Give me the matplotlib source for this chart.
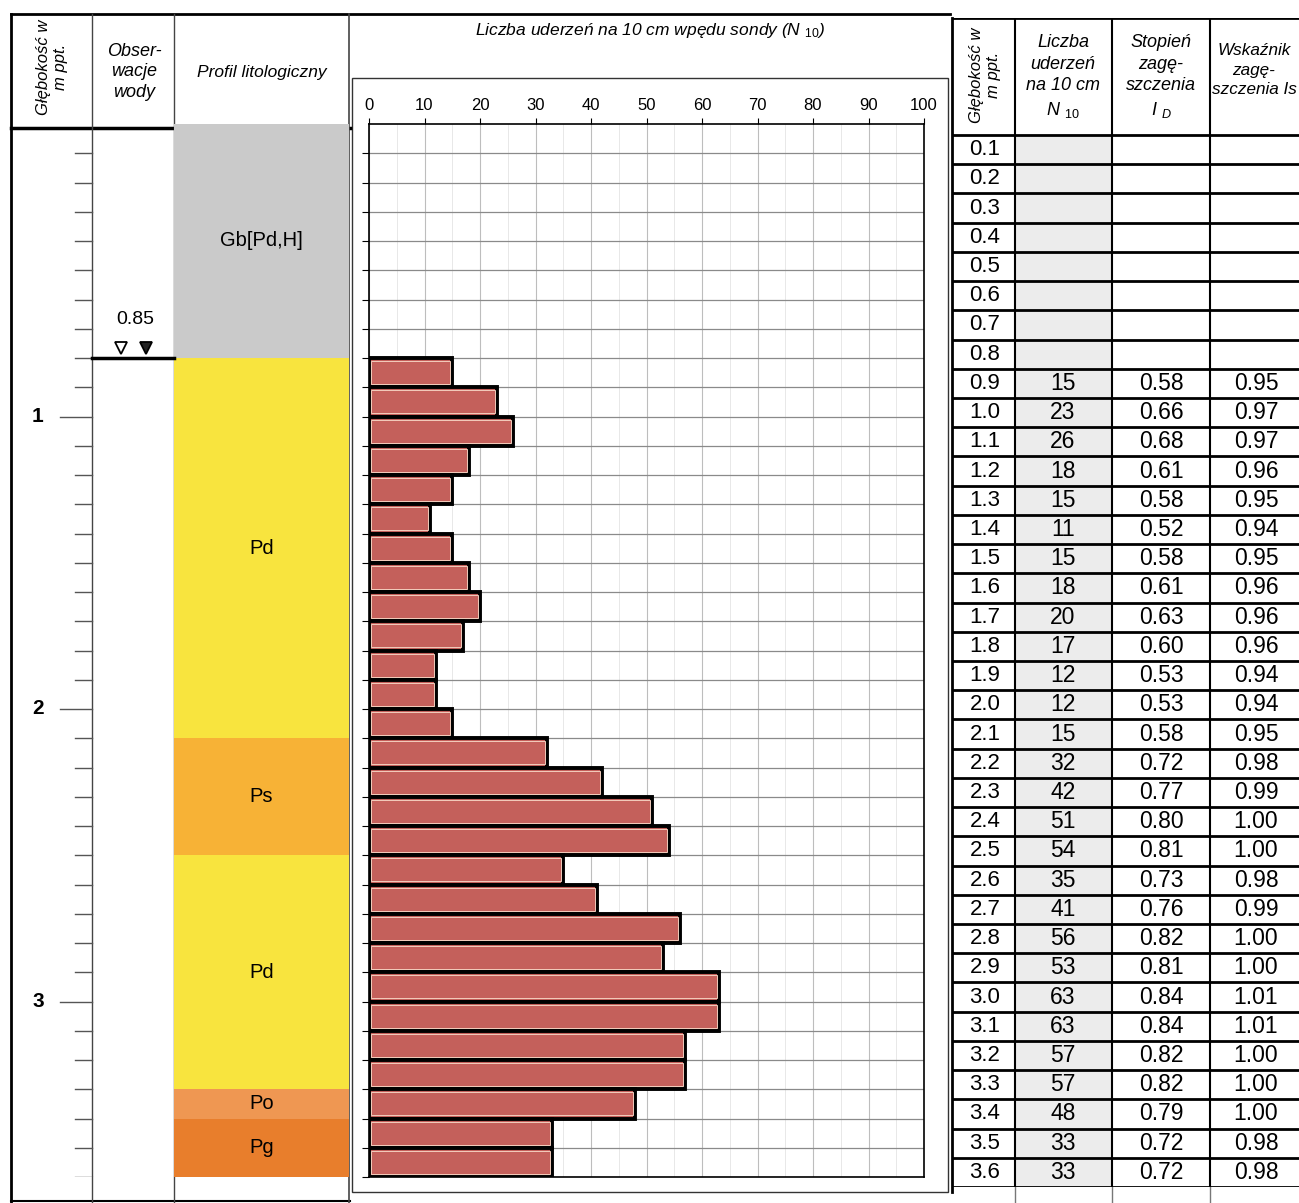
"""
Sounding log: lithology profile, N10 blow counts and density table
"""

import numpy as np
import matplotlib.pyplot as plt
from matplotlib.patches import Rectangle

plt.rcParams["font.family"] = ["Liberation Sans", "DejaVu Sans"]
plt.rcParams["mathtext.fontset"] = "custom"
plt.rcParams["mathtext.rm"] = "Liberation Sans"
plt.rcParams["mathtext.it"] = "Liberation Sans:italic"
plt.rcParams["mathtext.bf"] = "Liberation Sans:bold"

# depth of each 10 cm step [m ppt.]
depth = [0.1, 0.2, 0.3, 0.4, 0.5, 0.6, 0.7, 0.8, 0.9, 1.0, 1.1, 1.2,
         1.3, 1.4, 1.5, 1.6, 1.7, 1.8, 1.9, 2.0, 2.1, 2.2, 2.3, 2.4,
         2.5, 2.6, 2.7, 2.8, 2.9, 3.0, 3.1, 3.2, 3.3, 3.4, 3.5, 3.6]
# blow counts (no sounding above 0.8 m)
n10 = [None, None, None, None, None, None, None, None,
       15, 23, 26, 18, 15, 11, 15, 18, 20, 17, 12, 12, 15, 32,
       42, 51, 54, 35, 41, 56, 53, 63, 63, 57, 57, 48, 33, 33]
i_d = [None, None, None, None, None, None, None, None,
       0.58, 0.66, 0.68, 0.61, 0.58, 0.52, 0.58, 0.61, 0.63, 0.60,
       0.53, 0.53, 0.58, 0.72, 0.77, 0.80, 0.81, 0.73, 0.76, 0.82,
       0.81, 0.84, 0.84, 0.82, 0.82, 0.79, 0.72, 0.72]
i_s = [None, None, None, None, None, None, None, None,
       0.95, 0.97, 0.97, 0.96, 0.95, 0.94, 0.95, 0.96, 0.96, 0.96,
       0.94, 0.94, 0.95, 0.98, 0.99, 1.00, 1.00, 0.98, 0.99, 1.00,
       1.00, 1.01, 1.01, 1.00, 1.00, 1.00, 0.98, 0.98]

# lithology
layer_names = ["Gb[Pd,H]", "Pd", "Ps", "Pd", "Po", "Pg"]
layer_top = [0.0, 0.8, 2.1, 2.5, 3.3, 3.4]
layer_bottom = [0.8, 2.1, 2.5, 3.3, 3.4, 3.6]
layer_colors = ["#cacaca", "#f8e43e", "#f7b236", "#f8e43e", "#ef9752", "#e87e2c"]

water_level = 0.85
depth_major = [1, 2, 3]
x_ticks = [0, 10, 20, 30, 40, 50, 60, 70, 80, 90, 100]

W, H = 1299, 1203
fig = plt.figure(figsize=(W / 100, H / 100), dpi=100)


def px_axes(x0, y0, x1, y1, **kw):
    # axes given by pixel box, y measured from the top
    return fig.add_axes([x0 / W, 1 - y1 / H, (x1 - x0) / W, (y1 - y0) / H], **kw)


# background / frame axes in pixel coordinates
bg = px_axes(0, 0, W, H)
bg.set_xlim(0, W)
bg.set_ylim(H, 0)
bg.axis("off")

k = dict(color="black", lw=2)
bg.plot([11, 950], [14, 14], **k)
bg.plot([11, 11], [14, H], **k)
bg.plot([11, 350], [128, 128], lw=2.5, color="black")
bg.plot([11, 350], [1201, 1201], lw=1.5, color="black")
bg.plot([92, 92], [14, H], lw=1, color="#444444")
bg.plot([174, 174], [14, H], lw=1, color="#444444")
bg.plot([349, 349], [14, H], lw=1.2, color="#444444")
bg.add_patch(Rectangle((352, 78), 596, 1114, fill=False, lw=1, ec="#333333"))
bg.plot([952, 952], [18, 1192], lw=2, color="black")

bg.text(52, 67, "Głębokość w\nm ppt.", rotation=90, ha="center", va="center",
        style="italic", fontsize=12, multialignment="center", linespacing=1.2)
bg.text(134, 72, "Obser-\nwacje\nwody", ha="center", va="center",
        style="italic", fontsize=13, linespacing=1.3)
bg.text(262, 72, "Profil litologiczny", ha="center", va="center",
        style="italic", fontsize=12.5)
bg.text(650, 30, r"Liczba uderzeń na 10 cm wpędu sondy (N $_{\mathit{10}}$)",
        ha="center", va="center", style="italic", fontsize=12.5)

# left part: depth scale, water, lithology
top_px, bot_px = 124, 1177
ax_l = px_axes(11, top_px, 350, bot_px)
ax_l.set_xlim(11, 350)
ax_l.set_ylim(3.6, 0)
ax_l.axis("off")
ax_l.patch.set_alpha(0)

for d in depth:
    if d in depth_major:
        ax_l.plot([60, 92], [d, d], color="#555555", lw=1)
    else:
        ax_l.plot([75, 92], [d, d], color="#555555", lw=1)
for d in depth_major:
    ax_l.text(38, d, str(d), ha="center", va="center", fontsize=15, fontweight="bold")

for name, t, b, c in zip(layer_names, layer_top, layer_bottom, layer_colors):
    ax_l.bar(261.5, b - t, bottom=t, width=175, color=c, lw=0)
    ax_l.text(261.5, (t + b) / 2, name, ha="center", va="center", fontsize=14.5)

ax_l.plot([92, 174], [layer_bottom[0], layer_bottom[0]], color="black", lw=2.5)
ax_l.text(135, water_level - 0.18, f"{water_level:.2f}", ha="center", va="center",
          fontsize=14)
ax_l.plot([121], [water_level - 0.085], marker="v", ms=9, mfc="white", mec="black",
          mew=1.3, ls="none")
ax_l.plot([146], [water_level - 0.085], marker="v", ms=9, mfc="#222222", mec="black",
          mew=1.3, ls="none")

# blow count bars
ax_b = px_axes(369, top_px, 924, bot_px)
ax_b.set_xlim(0, 100)
ax_b.set_ylim(3.6, 0)
ax_b.set_xticks(x_ticks)
ax_b.set_xticks(np.arange(0, 101, 5), minor=True)
ax_b.set_yticks(depth)
ax_b.xaxis.tick_top()
ax_b.tick_params(axis="x", which="major", labelsize=12, length=4, pad=4, width=0.8)
ax_b.tick_params(axis="x", which="minor", length=0)
ax_b.tick_params(axis="y", labelleft=False, length=5, width=0.8)
ax_b.grid(axis="x", which="major", color="#bdbdbd", lw=0.8)
ax_b.grid(axis="x", which="minor", color="#e4e4e4", lw=0.6)
ax_b.grid(axis="y", which="major", color="#8a8a8a", lw=0.9)
ax_b.set_axisbelow(True)
for s in ax_b.spines.values():
    s.set_linewidth(1.2)

vals = [(d, v) for d, v in zip(depth, n10) if v is not None]
bd = np.array([d for d, v in vals])
bv = np.array([v for d, v in vals])
ax_b.barh(bd - 0.05, bv, height=0.1, color="#c4605b", edgecolor="black", lw=2.8, zorder=3)
ax_b.barh(bd - 0.05, bv - 0.7, left=0.35, height=0.078, color="none",
          edgecolor="#f3cdbd", lw=0.7, zorder=4)

# table on the right
ax_t = px_axes(952, 18, W, 1187)
ax_t.set_xlim(952, W)
ax_t.set_ylim(1187, 18)
ax_t.axis("off")
ax_t.patch.set_alpha(0)

row_h = (1187 - 135) / len(depth)
ax_t.add_patch(Rectangle((1015, 135), 97, 1187 - 135, color="#ececec", lw=0))
for i in range(len(depth) + 1):
    ax_t.plot([952, W], [135 + i * row_h] * 2, color="black", lw=2)
ax_t.plot([952, W], [18, 18], color="black", lw=2)
for xc in [1015, 1112, 1210]:
    ax_t.plot([xc, xc], [18, 1187], color="black", lw=1.5)
    bg.plot([xc, xc], [1187, H], color="#777777", lw=1)

ax_t.text(985, 75, "Głębokość w\nm ppt.", rotation=90, ha="center", va="center",
          style="italic", fontsize=12, multialignment="center", linespacing=1.2)
ax_t.text(1063, 77, "Liczba\nuderzeń\nna 10 cm\n" + r"N $_{\mathit{10}}$", ha="center",
          va="center", style="italic", fontsize=13, linespacing=1.35)
ax_t.text(1161, 77, "Stopień\nzagę-\nszczenia\n" + r"$\mathit{I}$ $_{\mathit{D}}$",
          ha="center", va="center", style="italic", fontsize=13, linespacing=1.35)
ax_t.text(1254, 70, "Wskaźnik\nzagę-\nszczenia Is", ha="center", va="center",
          style="italic", fontsize=12.3, linespacing=1.4)

for i, d in enumerate(depth):
    yc = 135 + (i + 0.5) * row_h
    ax_t.text(985, yc, f"{d:.1f}", ha="center", va="center", fontsize=16)
    if n10[i] is not None:
        ax_t.text(1063, yc, str(n10[i]), ha="center", va="center", fontsize=16.5)
        ax_t.text(1161, yc, f"{i_d[i]:.2f}", ha="center", va="center", fontsize=16.5)
        ax_t.text(1256, yc, f"{i_s[i]:.2f}", ha="center", va="center", fontsize=16.5)

fig.savefig("out.png", dpi=100)
